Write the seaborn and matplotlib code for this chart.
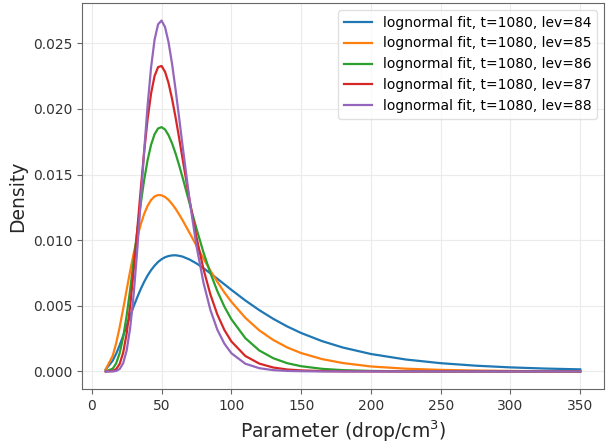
import matplotlib
matplotlib.use('Agg')
import matplotlib.pyplot as plt
import numpy as np
import pandas as pd
import seaborn as sns

# values
param = [10, 15, 17.5, 20, 22.5, 25, 27.5, 30, 32.5, 35, 37.5, 40, 42.5, 45, 47.5, 50, 52.5, 55,
         57.5, 60, 62.5, 65, 70, 75, 80, 85, 90, 95, 100, 110, 120, 130, 140, 150, 165, 180,
         200, 225, 250, 275, 300, 325, 350]

dens_lev84 = [0.00016, 0.00082, 0.00136, 0.00200, 0.00272, 0.00347, 0.00422, 0.00495, 0.00563,
              0.00626, 0.00682, 0.00731, 0.00772, 0.00806, 0.00834, 0.00855, 0.00870, 0.00879,
              0.00884, 0.00885, 0.00881, 0.00875, 0.00853, 0.00823, 0.00787, 0.00747, 0.00706,
              0.00664, 0.00622, 0.00541, 0.00467, 0.00401, 0.00343, 0.00293, 0.00231, 0.00182,
              0.00133, 0.00091, 0.00063, 0.00044, 0.00031, 0.00022, 0.00016]
dens_lev85 = [0.00017, 0.00119, 0.00216, 0.00338, 0.00477, 0.00622, 0.00765, 0.00898, 0.01016,
              0.01117, 0.01199, 0.01262, 0.01306, 0.01333, 0.01344, 0.01342, 0.01329, 0.01307,
              0.01276, 0.01240, 0.01198, 0.01153, 0.01057, 0.00958, 0.00861, 0.00768, 0.00682,
              0.00602, 0.00531, 0.00409, 0.00313, 0.00240, 0.00183, 0.00140, 0.00094, 0.00064,
              0.00038, 0.00021, 0.00012, 0.00007, 0.00004, 0.00002, 0.00001]
dens_lev86 = [0.00001, 0.00021, 0.00062, 0.00140, 0.00262, 0.00426, 0.00624, 0.00842, 0.01062,
              0.01271, 0.01456, 0.01610, 0.01727, 0.01807, 0.01851, 0.01861, 0.01843, 0.01800,
              0.01738, 0.01662, 0.01574, 0.01480, 0.01283, 0.01088, 0.00908, 0.00749, 0.00611,
              0.00494, 0.00398, 0.00254, 0.00160, 0.00101, 0.00063, 0.00040, 0.00020, 0.00010,
              0.00004, 0.00001, 0.0, 0.0, 0.0, 0.0, 0.0]
dens_lev87 = [0.0, 0.00004, 0.00018, 0.00058, 0.00143, 0.00289, 0.00499, 0.00766, 0.01067,
              0.01377, 0.01670, 0.01922, 0.02118, 0.02251, 0.02318, 0.02327, 0.02283, 0.02197,
              0.02078, 0.01938, 0.01784, 0.01624, 0.01309, 0.01023, 0.00781, 0.00586, 0.00433,
              0.00316, 0.00229, 0.00118, 0.00060, 0.00030, 0.00015, 0.00008, 0.00003, 0.00001,
              0.0, 0.0, 0.0, 0.0, 0.0, 0.0, 0.0]
dens_lev88 = [0.0, 0.0, 0.00004, 0.00019, 0.00063, 0.00160, 0.00331, 0.00586, 0.00914,
              0.01288, 0.01672, 0.02026, 0.02317, 0.02527, 0.02644, 0.02673, 0.02623, 0.02508,
              0.02345, 0.02151, 0.01940, 0.01724, 0.01311, 0.00957, 0.00678, 0.00468, 0.00317,
              0.00212, 0.00139, 0.00059, 0.00025, 0.00010, 0.00004, 0.00002, 0.0, 0.0,
              0.0, 0.0, 0.0, 0.0, 0.0, 0.0, 0.0]

levels = [84, 85, 86, 87, 88]
series = [dens_lev84, dens_lev85, dens_lev86, dens_lev87, dens_lev88]

rows = []
for lev, dens in zip(levels, series):
    label = 'lognormal fit, t=1080, lev={}'.format(lev)
    for x, y in zip(param, dens):
        rows.append([x, y, label])
df = pd.DataFrame(rows, columns=['param', 'density', 'fit'])

fig = plt.figure(figsize=(6.06, 4.48), dpi=100)
ax = fig.add_axes([82 / 606, 1 - 389 / 448, 522 / 606, 386 / 448])

sns.lineplot(data=df, x='param', y='density', hue='fit', palette='tab10',
             linewidth=1.6, ax=ax, estimator=None)

ax.grid(True, color='0.92', linewidth=0.8)
ax.set_axisbelow(True)
for s in ax.spines.values():
    s.set_color('0.4')
ax.tick_params(colors='0.4', labelcolor='0.2', labelsize=10)

ax.set_xlabel('Parameter (drop/cm$^3$)', fontsize=13.5, color='0.15')
ax.set_ylabel('Density', fontsize=13.5, color='0.15')
ax.set_xticks(np.arange(0, 351, 50))

sns.move_legend(ax, 'upper right', title=None, fontsize=10, frameon=True)
ax.get_legend().get_frame().set_edgecolor('0.85')

fig.savefig('out.png', dpi=100)
